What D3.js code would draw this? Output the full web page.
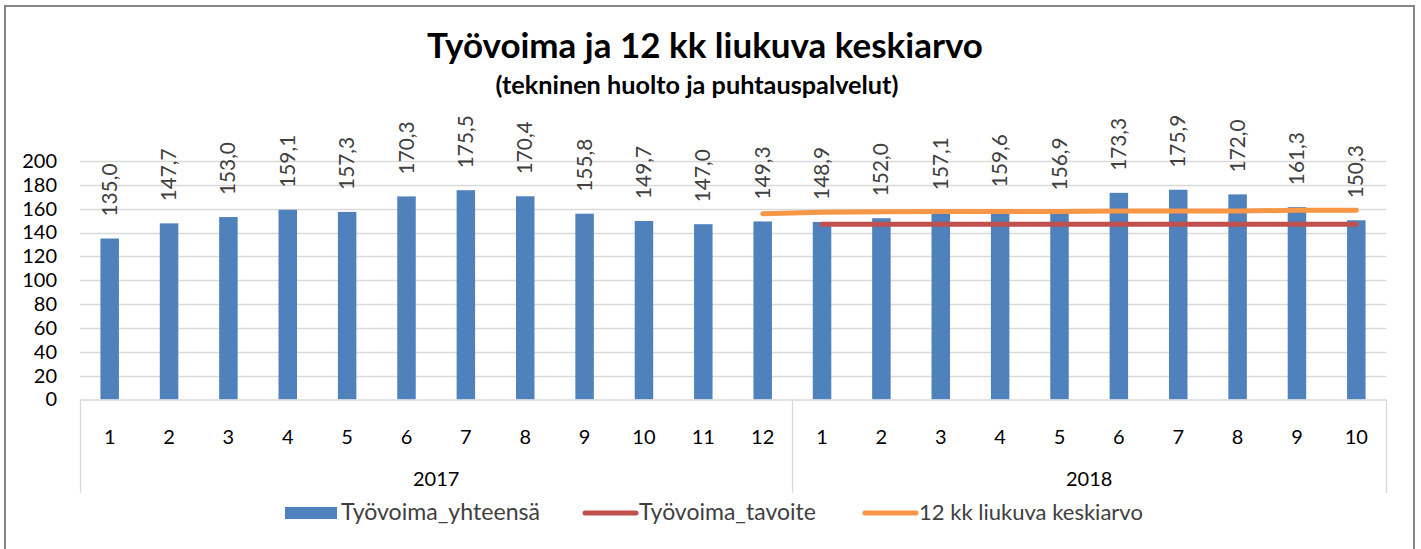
<!DOCTYPE html>
<html>
<head>
<meta charset="utf-8">
<script src="https://cdn.jsdelivr.net/npm/d3@7"></script>
<style>
  html, body { margin: 0; padding: 0; background: #fff; }
  svg { display: block; }
  text { font-family: Lato, "Open Sans", sans-serif; }
</style>
</head>
<body>
<svg id="chart" width="1421" height="549"></svg>
<script>
// ---- data ----
const yearLabels = ["2017", "2018"];
const yearMonthCounts = [12, 10];
const monthLabels = ["1","2","3","4","5","6","7","8","9","10","11","12",
                     "1","2","3","4","5","6","7","8","9","10"];
const tyovoimaYhteensa = [135.0, 147.7, 153.0, 159.1, 157.3, 170.3, 175.5, 170.4, 155.8, 149.7, 147.0, 149.3,
                          148.9, 152.0, 157.1, 159.6, 156.9, 173.3, 175.9, 172.0, 161.3, 150.3];
const tyovoimaTavoite = [null, null, null, null, null, null, null, null, null, null, null, null,
                         147, 147, 147, 147, 147, 147, 147, 147, 147, 147];
const liukuvaKeskiarvo = [null, null, null, null, null, null, null, null, null, null, null, 155.8,
                          157.0, 157.4, 157.7, 157.7, 157.7, 158.0, 158.0, 158.1, 158.6, 158.6];
const yTicks = [0, 20, 40, 60, 80, 100, 120, 140, 160, 180, 200];
const seriesNames = ["Työvoima_yhteensä", "Työvoima_tavoite", "12 kk liukuva keskiarvo"];
const titleText = "Työvoima ja 12 kk liukuva keskiarvo";
const subtitleText = "(tekninen huolto ja puhtauspalvelut)";

// ---- styles ----
const C_BAR = "#4F81BD", C_RED = "#C0504D", C_ORANGE = "#F79646";
const C_GRID = "#D9D9D9";
const AXIS_FS = 20;

const svg = d3.select("#chart");
const plot = { left: 80, right: 1386, top: 161, bottom: 399.5 };

const fi = d3.formatLocale({ decimal: ",", thousands: " ", grouping: [3], currency: ["", "€"] });
const fmt = fi.format(".1f");

const x = d3.scaleBand().domain(d3.range(monthLabels.length)).range([plot.left, plot.right]).padding(0);
const y = d3.scaleLinear().domain([0, 200]).range([plot.bottom, plot.top]);

function fitWidth(sel, target) {
  sel.each(function () {
    const fs = parseFloat(this.getAttribute("font-size"));
    const w = this.getComputedTextLength();
    if (w > 0) this.setAttribute("font-size", (fs * target / w).toFixed(2));
  });
}

// outer border
svg.append("rect").attr("x", 5).attr("y", 6).attr("width", 1409).attr("height", 600)
  .attr("fill", "none").attr("stroke", "#878787").attr("stroke-width", 2);

// gridlines
svg.append("g").selectAll("line").data(yTicks.filter(d => d > 0)).join("line")
  .attr("x1", plot.left).attr("x2", plot.right)
  .attr("y1", d => Math.round(y(d)) + 0.5).attr("y2", d => Math.round(y(d)) + 0.5)
  .attr("stroke", C_GRID).attr("stroke-width", 1.3);

// y axis
const yAxis = svg.append("g").attr("transform", `translate(${plot.left},0)`)
  .call(d3.axisLeft(y).tickValues(yTicks).tickSize(0).tickPadding(23).tickFormat(d3.format("d")));
yAxis.select(".domain").remove();
yAxis.selectAll("text").attr("font-size", AXIS_FS).attr("fill", "#000")
  .style("font-family", "Lato, sans-serif");

// bars
const bw = 18.5;
svg.append("g").selectAll("rect").data(tyovoimaYhteensa).join("rect")
  .attr("x", (d, i) => x(i) + x.bandwidth() / 2 - bw / 2)
  .attr("y", d => y(d))
  .attr("width", bw)
  .attr("height", d => y(0) - y(d))
  .attr("fill", C_BAR);

// category axis (multi-level)
const axisG = svg.append("g");
axisG.append("line").attr("x1", plot.left).attr("x2", plot.right)
  .attr("y1", plot.bottom + 0.5).attr("y2", plot.bottom + 0.5).attr("stroke", C_GRID).attr("stroke-width", 1.3);
const xm = d3.axisBottom(x).tickSize(0).tickPadding(0).tickFormat(i => monthLabels[i]);
const mAxis = axisG.append("g").attr("transform", `translate(0,${plot.bottom})`).call(xm);
mAxis.select(".domain").remove();
mAxis.selectAll("text").attr("font-size", AXIS_FS).attr("fill", "#000").attr("dy", 0)
  .attr("y", 44).style("font-family", "Lato, sans-serif");

// year groups
let startIdx = 0;
const boundaries = [plot.left];
yearLabels.forEach((yl, k) => {
  const endIdx = startIdx + yearMonthCounts[k] - 1;
  const x0 = x(startIdx), x1 = x(endIdx) + x.bandwidth();
  boundaries.push(x1);
  axisG.append("text").attr("x", (x0 + x1) / 2).attr("y", 486)
    .attr("text-anchor", "middle").attr("font-size", AXIS_FS).attr("fill", "#000").text(yl);
  startIdx = endIdx + 1;
});
axisG.selectAll("line.bnd").data(boundaries).join("line").attr("class", "bnd")
  .attr("x1", d => Math.round(d) + 0.5).attr("x2", d => Math.round(d) + 0.5)
  .attr("y1", plot.bottom).attr("y2", 493)
  .attr("stroke", C_GRID).attr("stroke-width", 1.3);

// lines
const lineGen = d3.line().defined(d => d != null)
  .x((d, i) => x(i) + x.bandwidth() / 2).y(d => y(d));
svg.append("path").datum(tyovoimaTavoite).attr("d", lineGen)
  .attr("fill", "none").attr("stroke", C_RED).attr("stroke-width", 5).attr("stroke-linecap", "round");
svg.append("path").datum(liukuvaKeskiarvo).attr("d", lineGen)
  .attr("fill", "none").attr("stroke", C_ORANGE).attr("stroke-width", 5).attr("stroke-linecap", "round")
  .attr("stroke-linejoin", "round");

// data labels (rotated)
const labels = svg.append("g").selectAll("text").data(tyovoimaYhteensa).join("text")
  .attr("transform", (d, i) => `translate(${x(i) + x.bandwidth() / 2 + 7},${y(d) - 22}) rotate(-90)`)
  .attr("font-size", 20).attr("fill", "#404040").text(d => fmt(d));
const lw = labels.nodes()[0].getComputedTextLength();
labels.attr("font-size", (20 * 53 / lw).toFixed(2));

// title
const t1 = svg.append("text").attr("x", 705).attr("y", 58).attr("text-anchor", "middle")
  .attr("font-size", 28).attr("font-weight", "bold").attr("fill", "#000").text(titleText);
fitWidth(t1, 556);
const t2 = svg.append("text").attr("x", 697).attr("y", 94).attr("text-anchor", "middle")
  .attr("font-size", 22).attr("font-weight", "bold").attr("fill", "#000").text(subtitleText);
fitWidth(t2, 403);

// legend
const legendX = [285, 583, 863];
const legendTextW = [199, 177, 224];
const legend = svg.append("g");
seriesNames.forEach((name, k) => {
  const lx = legendX[k];
  if (k === 0) {
    legend.append("rect").attr("x", lx).attr("y", 507).attr("width", 52).attr("height", 12).attr("fill", C_BAR);
  } else {
    legend.append("line").attr("x1", lx + 2).attr("x2", lx + 53).attr("y1", 513).attr("y2", 513)
      .attr("stroke", k === 1 ? C_RED : C_ORANGE).attr("stroke-width", 5).attr("stroke-linecap", "round");
  }
  const tt = legend.append("text").attr("x", lx + 56).attr("y", 520).attr("font-size", 19)
    .attr("fill", "#404040").text(name);
  fitWidth(tt, legendTextW[k]);
});
</script>
</body>
</html>
